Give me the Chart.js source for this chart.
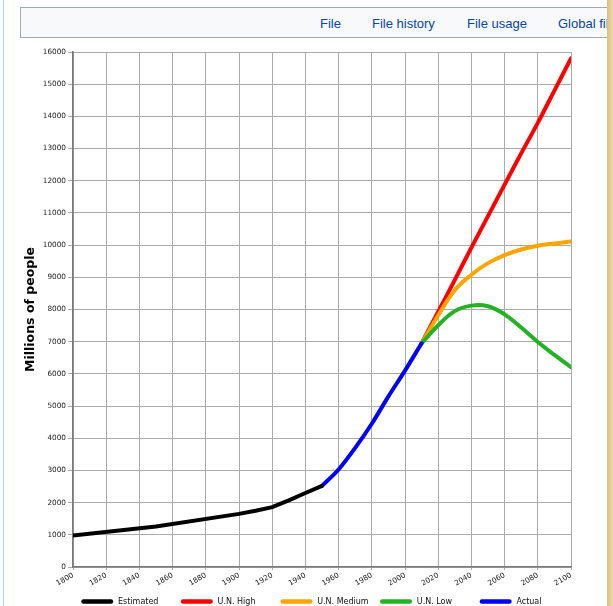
<!DOCTYPE html>
<html>
<head>
<meta charset="utf-8">
<script src="https://cdn.jsdelivr.net/npm/chart.js@4/dist/chart.umd.min.js"></script>
<style>
  html, body { margin: 0; padding: 0; width: 613px; height: 606px; overflow: hidden; background: #fff; }
  #leftbar { position: absolute; left: 3px; top: 0; width: 1px; height: 606px; background: #a7d7f9; }
  #tabs { position: absolute; left: 20px; top: 7px; width: 600px; height: 31px; box-sizing: border-box;
          background: #f8f9fa; border: 1px solid #a2a9b1; }
  .tab { position: absolute; top: 16px; font: 13px "Liberation Sans", Arial, sans-serif; color: #0645ad; line-height: 15px; white-space: nowrap; }
  #rightbar { position: absolute; left: 607px; top: 0; width: 6px; height: 606px;
              background: linear-gradient(to right, #d8c088, #ecd9a2); }
  #wrap { position: absolute; left: 0; top: 0; width: 613px; height: 606px; }
</style>
</head>
<body>
<div id="leftbar"></div>
<div id="tabs"></div>
<span class="tab" style="left:320px">File</span>
<span class="tab" style="left:372px">File history</span>
<span class="tab" style="left:467px">File usage</span>
<span class="tab" style="left:558px">Global file usage</span>
<div id="wrap"><canvas id="chart" width="613" height="606"></canvas></div>
<div id="rightbar"></div>
<script>
// world population, millions
const estYears = [1800, 1850, 1900, 1910, 1920, 1930, 1940, 1950]
const estValues = [980, 1260, 1650, 1750, 1860, 2070, 2300, 2520]

const actYears = [1950, 1960, 1970, 1980, 1990, 2000, 2010]
const actValues = [2520, 3030, 3700, 4450, 5300, 6100, 6950]

const projYears = [2010, 2020, 2030, 2040, 2050, 2060, 2070, 2080, 2090, 2100]
const highValues = [6950, 7930, 8920, 9920, 10900, 11880, 12850, 13800, 14800, 15800]
const mediumValues = [6950, 7820, 8600, 9080, 9440, 9690, 9865, 9980, 10050, 10110]
const lowValues = [6950, 7510, 7950, 8120, 8100, 7850, 7440, 6990, 6590, 6210]

const toPoints = (xs, ys) => xs.map((x, i) => ({ x: x, y: ys[i] }))

const FONT = '"DejaVu Sans", sans-serif'

// legend drawn as one evenly spaced row under the axis
const rowLegend = {
  id: "rowLegend",
  afterDraw(chart) {
    const ctx = chart.ctx
    chart.data.datasets.forEach((ds, i) => {
      const x = 81 + i * 99.6
      const y = 601.5
      ctx.save()
      ctx.strokeStyle = ds.borderColor
      ctx.lineWidth = 4.5
      ctx.lineCap = "round"
      ctx.beginPath()
      ctx.moveTo(x + 2.5, y)
      ctx.lineTo(x + 30, y)
      ctx.stroke()
      ctx.fillStyle = "#111"
      ctx.font = "8px " + FONT
      ctx.textBaseline = "middle"
      ctx.fillText(ds.label, x + 37, y)
      ctx.restore()
    })
  }
}

const line = (label, color, xs, ys, order, tension) => ({
  label: label,
  data: toPoints(xs, ys),
  borderColor: color,
  backgroundColor: color,
  borderWidth: 4,
  borderCapStyle: "round",
  pointRadius: 0,
  fill: false,
  order: order,
  tension: tension
})

const plainNumber = v => String(v)

new Chart(document.getElementById("chart"), {
  type: "line",
  data: {
    datasets: [
      line("Estimated", "#000000", estYears, estValues, 0, 0),
      line("U.N. High", "#ff0000", projYears, highValues, 4, 0.4),
      line("U.N. Medium", "#ffa500", projYears, mediumValues, 3, 0.4),
      line("U.N. Low", "#22b322", projYears, lowValues, 2, 0.4),
      line("Actual", "#0000ff", actYears, actValues, 1, 0.3)
    ]
  },
  options: {
    responsive: false,
    animation: false,
    layout: { padding: { top: 52, right: 42, left: 0, bottom: 0 } },
    plugins: {
      legend: { display: false },
      tooltip: { enabled: false }
    },
    scales: {
      x: {
        type: "linear",
        min: 1800,
        max: 2100,
        afterFit: s => { s.height = 39 },
        ticks: {
          stepSize: 20,
          autoSkip: false,
          minRotation: 30,
          maxRotation: 30,
          padding: 1,
          color: "#222",
          font: { family: FONT, size: 7.3 },
          callback: plainNumber
        },
        grid: { color: "#aaaaaa", lineWidth: 1, tickLength: 3 },
        border: { color: "#7a7a7a", width: 1.6 }
      },
      y: {
        min: 0,
        max: 16000,
        afterFit: s => { s.width = 73 },
        ticks: {
          stepSize: 1000,
          padding: 2,
          color: "#222",
          font: { family: FONT, size: 7.3 },
          callback: plainNumber
        },
        grid: { color: "#aaaaaa", lineWidth: 1, tickLength: 5 },
        border: { color: "#7a7a7a", width: 1.6 },
        title: {
          display: true,
          text: "Millions of people",
          color: "#000",
          font: { family: FONT, size: 12.5, weight: "bold" },
          padding: { top: 23, bottom: 0 }
        }
      }
    }
  },
  plugins: [rowLegend]
})
</script>
</body>
</html>
